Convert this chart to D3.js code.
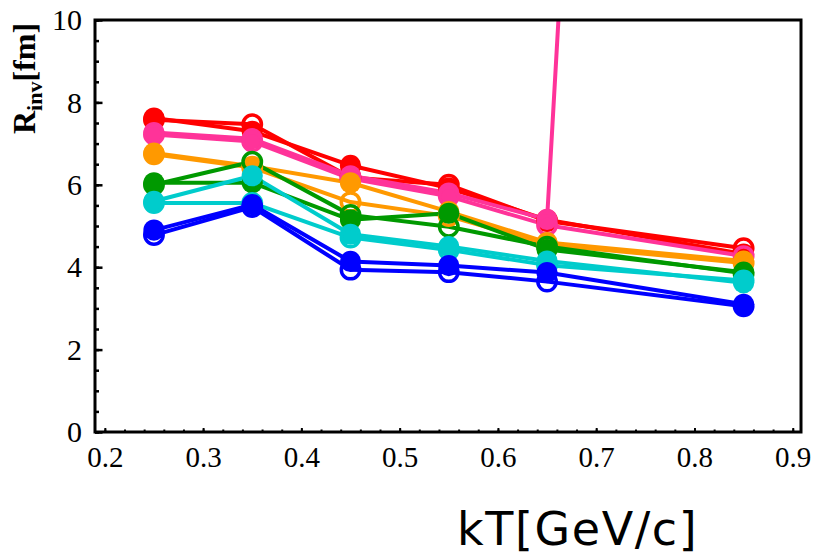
<!DOCTYPE html>
<html>
<head>
<meta charset="utf-8">
<script src="https://cdn.jsdelivr.net/npm/d3@7"></script>
<style>
  html, body { margin: 0; padding: 0; background: #fff; }
  svg { display: block; }
</style>
</head>
<body>
<svg id="chart" width="813" height="557"></svg>
<script>
// Pair momentum bins (GeV/c)
const kT = [0.25, 0.35, 0.45, 0.55, 0.65, 0.85];
// The filled pink set has its last point far above the frame
const kTPinkFilled = [0.25, 0.35, 0.45, 0.55, 0.65, 0.75];

// R_inv (fm), filled and open markers for each colour
const redFilled    = [7.62, 7.30, 6.47, 5.92, 5.15, 4.32];
const redOpen      = [7.58, 7.47, 6.18, 6.00, 5.12, 4.46];
const pinkFilled   = [7.27, 7.12, 6.22, 5.80, 5.16, 47.0];
const pinkOpen     = [7.22, 7.05, 6.15, 5.72, 5.02, 4.27];
const orangeFilled = [6.77, 6.45, 6.05, 5.35, 4.60, 4.15];
const orangeOpen   = [6.74, 6.42, 5.58, 5.24, 4.55, 4.10];
const greenFilled  = [6.05, 6.05, 5.15, 5.31, 4.43, 3.88];
const greenOpen    = [6.00, 6.56, 5.27, 4.98, 4.50, 3.85];
const cyanFilled   = [5.60, 6.22, 4.80, 4.50, 4.15, 3.62];
const cyanOpen     = [5.56, 5.56, 4.72, 4.42, 4.05, 3.68];
const blueFilled   = [4.90, 5.52, 4.14, 4.04, 3.87, 3.10];
const blueOpen     = [4.78, 5.46, 3.94, 3.88, 3.65, 3.05];

const xTickLabels = ["0.2", "0.3", "0.4", "0.5", "0.6", "0.7", "0.8", "0.9"];
const yTickLabels = ["0", "2", "4", "6", "8", "10"];

const series = [
  { x: kT,           y: redFilled,    color: "#ff0000", filled: true  },
  { x: kT,           y: redOpen,      color: "#ff0000", filled: false },
  { x: kTPinkFilled, y: pinkFilled,   color: "#ff3399", filled: true  },
  { x: kT,           y: pinkOpen,     color: "#ff3399", filled: false },
  { x: kT,           y: orangeFilled, color: "#ff9900", filled: true  },
  { x: kT,           y: orangeOpen,   color: "#ff9900", filled: false },
  { x: kT,           y: greenFilled,  color: "#009900", filled: true  },
  { x: kT,           y: greenOpen,    color: "#009900", filled: false },
  { x: kT,           y: cyanFilled,   color: "#00cccc", filled: true  },
  { x: kT,           y: cyanOpen,     color: "#00cccc", filled: false },
  { x: kT,           y: blueFilled,   color: "#0000ff", filled: true  },
  { x: kT,           y: blueOpen,     color: "#0000ff", filled: false }
];

const SERIF = "'Liberation Serif', 'Times New Roman', Times, serif";
const frame = { left: 95, right: 801, top: 20, bottom: 432 };
const svg = d3.select("#chart");

const x = d3.scaleLinear().domain([0.19, 0.9084]).range([frame.left, frame.right]);
const y = d3.scaleLinear().domain([0, 10]).range([frame.bottom, frame.top]);

svg.append("defs").append("clipPath").attr("id", "plotClip")
  .append("rect")
  .attr("x", frame.left).attr("y", frame.top)
  .attr("width", frame.right - frame.left).attr("height", frame.bottom - frame.top);

const plot = svg.append("g").attr("clip-path", "url(#plotClip)");

const line = d3.line().x(d => x(d[0])).y(d => y(d[1]));

// connecting lines first, markers on top
series.forEach(s => {
  const pts = s.x.map((v, i) => [v, s.y[i]]);
  plot.append("path")
    .datum(pts)
    .attr("d", line)
    .attr("fill", "none")
    .attr("stroke", s.color)
    .attr("stroke-width", 4)
    .attr("stroke-linejoin", "round");
});

series.forEach(s => {
  const pts = s.x.map((v, i) => [v, s.y[i]]).filter(d => d[1] <= 10);
  plot.selectAll(null)
    .data(pts)
    .enter().append("circle")
    .attr("cx", d => x(d[0]))
    .attr("cy", d => y(d[1]))
    .attr("r", s.filled ? 10.6 : 9.2)
    .attr("fill", s.filled ? s.color : "none")
    .attr("stroke", s.filled ? "none" : s.color)
    .attr("stroke-width", s.filled ? 0 : 3.5);
});

// frame
svg.append("rect")
  .attr("x", frame.left).attr("y", frame.top)
  .attr("width", frame.right - frame.left).attr("height", frame.bottom - frame.top)
  .attr("fill", "none").attr("stroke", "#000").attr("stroke-width", 3);

// bottom axis, ticks pointing inward: minor every 0.02, major every 0.1
svg.append("g")
  .attr("transform", `translate(0,${frame.bottom})`)
  .call(d3.axisBottom(x).tickValues(d3.range(0.2, 0.9001, 0.02)).tickSize(-2.5).tickFormat(""))
  .call(g => g.select(".domain").remove())
  .call(g => g.selectAll("line").attr("stroke", "#000").attr("stroke-width", 2));

svg.append("g")
  .attr("transform", `translate(0,${frame.bottom})`)
  .call(d3.axisBottom(x).tickValues(xTickLabels.map(Number)).tickSize(-4)
    .tickFormat((d, i) => xTickLabels[i]).tickPadding(14))
  .attr("font-family", SERIF)
  .attr("font-size", 29)
  .call(g => g.select(".domain").remove())
  .call(g => g.selectAll("line").attr("stroke", "#000").attr("stroke-width", 2))
  .call(g => g.selectAll("text").attr("fill", "#000"));

// left axis, ticks pointing inward: minor every 0.5, major every 2
svg.append("g")
  .attr("transform", `translate(${frame.left},0)`)
  .call(d3.axisLeft(y).tickValues(d3.range(0, 10.001, 0.5)).tickSize(-4).tickFormat(""))
  .call(g => g.select(".domain").remove())
  .call(g => g.selectAll("line").attr("stroke", "#000").attr("stroke-width", 2.5));

svg.append("g")
  .attr("transform", `translate(${frame.left},0)`)
  .call(d3.axisLeft(y).tickValues(yTickLabels.map(Number)).tickSize(-7.5)
    .tickFormat((d, i) => yTickLabels[i]).tickPadding(13))
  .attr("font-family", SERIF)
  .attr("font-size", 30)
  .call(g => g.select(".domain").remove())
  .call(g => g.selectAll("line").attr("stroke", "#000").attr("stroke-width", 2.5))
  .call(g => g.selectAll("text").attr("fill", "#000"));

// y title
const yTitle = svg.append("text")
  .attr("transform", "translate(35,134) rotate(-90)")
  .attr("font-family", SERIF)
  .attr("font-weight", "bold")
  .attr("font-size", 32)
  .attr("fill", "#000");
yTitle.append("tspan").text("R");
yTitle.append("tspan").attr("font-size", 22).attr("dy", 7).text("inv");
yTitle.append("tspan").attr("dy", -7).text("[fm]");

// x title
svg.append("text")
  .attr("x", 457).attr("y", 545)
  .attr("font-family", "'DejaVu Sans', sans-serif")
  .attr("font-size", 46)
  .attr("letter-spacing", 1.6)
  .attr("fill", "#000")
  .text("kT[GeV/c]");
</script>
</body>
</html>
